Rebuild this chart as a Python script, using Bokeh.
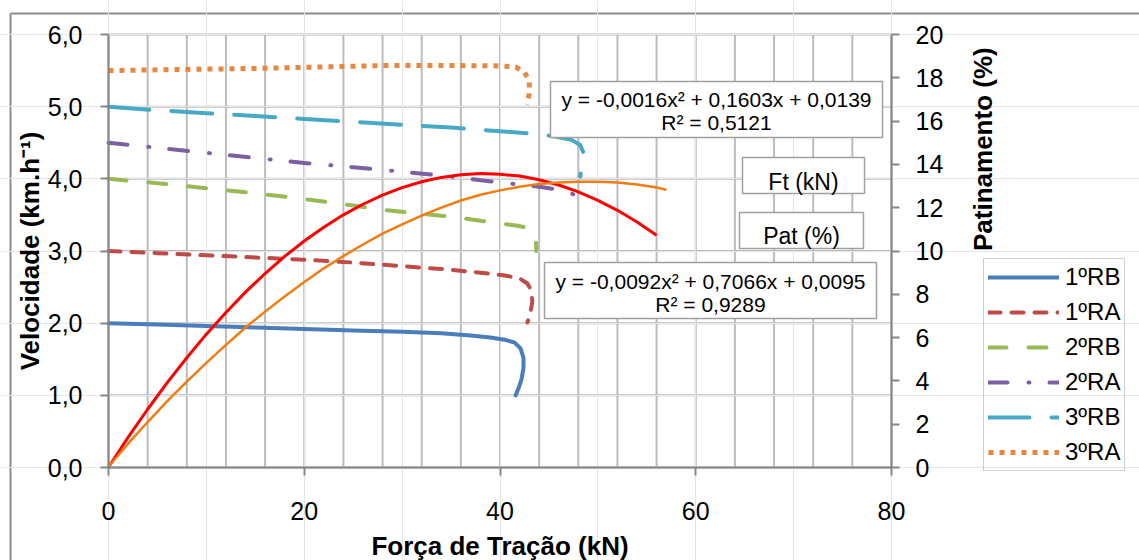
import math
from bokeh.plotting import figure
from bokeh.models import LinearAxis, Range1d, FixedTicker, Legend, LegendItem
from bokeh.core.properties import value
from bokeh.embed import file_html
from bokeh.resources import INLINE

# ---------------- data ----------------
rb1_f = [0, 5, 10, 15, 20, 25, 30, 34, 37, 39, 40.5, 41.5, 42.1, 42.4, 42.4, 42.2, 41.9, 41.6]
rb1_v = [2.00, 1.98, 1.96, 1.94, 1.92, 1.90, 1.88, 1.86, 1.83, 1.80, 1.77, 1.73, 1.65, 1.52, 1.38, 1.22, 1.10, 1.00]

ra1_f = [0, 5, 10, 15, 20, 25, 30, 34, 38, 40.5, 42, 42.8, 43.2, 43.3, 43.1, 42.8]
ra1_v = [3.00, 2.97, 2.94, 2.91, 2.88, 2.84, 2.79, 2.75, 2.70, 2.66, 2.62, 2.55, 2.45, 2.30, 2.13, 2.01]

rb2_f = [0, 5, 10, 15, 20, 25, 28, 34, 38, 41.8, 42.9, 43.5, 43.7, 43.7]
rb2_v = [4.00, 3.94, 3.87, 3.80, 3.72, 3.63, 3.57, 3.49, 3.42, 3.35, 3.32, 3.22, 3.10, 3.00]

ra2_f = [0, 5, 10, 15, 20, 25, 30, 35, 40, 44, 46.5, 47.6, 48.1, 48.2]
ra2_v = [4.50, 4.43, 4.36, 4.29, 4.22, 4.16, 4.10, 4.03, 3.95, 3.89, 3.84, 3.78, 3.70, 3.62]

rb3_f = [0, 5, 10, 15, 20, 25, 30, 35, 40, 43, 45.5, 47.3, 48.2, 48.5, 48.5, 48.3, 48.2]
rb3_v = [5.00, 4.95, 4.91, 4.87, 4.83, 4.79, 4.75, 4.71, 4.66, 4.63, 4.59, 4.54, 4.47, 4.37, 4.25, 4.12, 4.03]

ra3_f = [0, 5, 10, 15, 20, 28, 35, 40, 41.6, 42.5, 43.0, 43.0, 42.7]
ra3_v = [5.50, 5.51, 5.52, 5.53, 5.545, 5.57, 5.57, 5.565, 5.55, 5.48, 5.35, 5.18, 5.03]

# trendline of slip (right axis, %): y = -0,0092x² + 0,7066x + 0,0095
pat_f = [0, 2, 4, 6, 8, 10, 12, 14, 16, 18, 20, 22, 24, 26, 28, 30, 32, 34, 36, 38, 40, 42, 44, 46, 48, 50, 52, 54, 56]
pat_v = [0.01, 1.39, 2.69, 3.92, 5.07, 6.16, 7.16, 8.10, 8.96, 9.75, 10.46, 11.10, 11.67, 12.16, 12.58, 12.93,
         13.20, 13.40, 13.52, 13.58, 13.55, 13.46, 13.29, 13.05, 12.73, 12.34, 11.88, 11.34, 10.73]

# second trendline (left axis): y = -0,0016x² + 0,1603x + 0,0139
ft_f = [0, 2, 4, 6, 8, 10, 12, 14, 16, 18, 20, 22, 24, 26, 28, 30, 32, 34, 36, 38, 40, 42, 44, 46, 48, 50, 52, 54, 56, 57]
ft_v = [0.01, 0.33, 0.63, 0.92, 1.19, 1.45, 1.70, 1.94, 2.16, 2.37, 2.57, 2.76, 2.93, 3.09, 3.24, 3.37,
        3.49, 3.60, 3.70, 3.78, 3.84, 3.89, 3.93, 3.95, 3.96, 3.96, 3.95, 3.92, 3.88, 3.85]

series_names = ["1ºRB", "1ºRA", "2ºRB", "2ºRA", "3ºRB", "3ºRA"]
eq1_lines = ["y = -0,0016x² + 0,1603x + 0,0139", "R² = 0,5121"]
eq2_lines = ["y = -0,0092x² + 0,7066x + 0,0095", "R² = 0,9289"]
box_labels = ["Ft (kN)", "Pat (%)"]

x_ticks = [0, 20, 40, 60, 80]
x_grid = [0, 4, 8, 12, 16, 20, 24, 28, 32, 36, 40, 44, 48, 52, 56, 60, 64, 68, 72, 76, 80]
y_ticks = [0, 1, 2, 3, 4, 5, 6]
y_tick_labels = ["0,0", "1,0", "2,0", "3,0", "4,0", "5,0", "6,0"]
pat_ticks = [0, 2, 4, 6, 8, 10, 12, 14, 16, 18, 20]

# ---------------- layout ----------------
W, H = 1139, 560
FL, FR, FT, FB = 108, 891, 34, 467      # plot area of the chart (x 0..80, y 0..6)
XMAX, YMAX, PMAX = 80.0, 6.0, 20.0
FONT = "Liberation Sans"
AX = "#868686"
GRID = "#bcbcbc"
BOXLINE = "#a0a0a0"
FRAMELINE = "#8c8c8c"


def xd(px):
    return (px - FL) / (FR - FL) * XMAX


def yd(py):
    return (FB - py) / (FB - FT) * YMAX


# the drawing frame covers the whole canvas; axes are pinned to the plot area with fixed_location
p = figure(frame_width=W, frame_height=H, output_backend="svg", toolbar_location=None,
           x_range=Range1d(xd(0), xd(W)), y_range=Range1d(yd(H), yd(0)),
           x_axis_location=None, y_axis_location=None,
           min_border=0, border_fill_color="white", background_fill_color="white")
p.outline_line_color = None
p.extra_y_ranges = {"pat": Range1d(yd(H) * PMAX / YMAX, yd(0) * PMAX / YMAX)}

# axes
ya = LinearAxis(ticker=FixedTicker(ticks=y_ticks), fixed_location=0, bounds=(0, YMAX))
ya.major_label_overrides = {t: s for t, s in zip(y_ticks, y_tick_labels)}
p.add_layout(ya, "left")
xa = LinearAxis(ticker=FixedTicker(ticks=x_ticks), fixed_location=0, bounds=(0, XMAX))
p.add_layout(xa, "below")
ra = LinearAxis(y_range_name="pat", ticker=FixedTicker(ticks=pat_ticks), fixed_location=XMAX, bounds=(0, PMAX))
p.add_layout(ra, "right")

for a in (xa, ya, ra):
    a.axis_line_color = AX
    a.axis_line_width = 2
    a.major_tick_line_color = AX
    a.major_tick_line_width = 2
    a.major_tick_in = 0
    a.major_tick_out = 8
    a.minor_tick_line_color = None
    a.major_label_text_font = FONT
    a.major_label_text_font_size = "25px"
    a.major_label_text_color = "black"
    a.axis_label_text_font = FONT
    a.axis_label_text_font_size = "26px"
    a.axis_label_text_font_style = "bold"
    a.axis_label_text_color = "black"

ya.major_label_standoff = 18
ya.axis_label = "Velocidade (km.h⁻¹)"
ya.axis_label_standoff = 0
xa.major_label_standoff = 26
xa.axis_label = "Força de Tração (kN)"
xa.axis_label_standoff = 8
ra.major_label_standoff = 16
ra.axis_label = "Patinamento (%)"
ra.axis_label_standoff = 37
try:
    ra.axis_label_orientation = math.pi / 2
except Exception:
    pass

# outer chart border (left and top edges visible in the original)
p.multi_line(xs=[[xd(10), xd(10)], [xd(10), xd(W)]], ys=[[yd(13), yd(H)], [yd(13), yd(13)]],
             line_color=FRAMELINE, line_width=2, level="underlay")

# grid: vertical lines every 4 kN, horizontal lines at the left ticks (only over the plot area)
p.multi_line(xs=[[x, x] for x in x_grid], ys=[[0, YMAX] for _ in x_grid],
             line_color=GRID, line_width=2, level="underlay")
p.multi_line(xs=[[0, XMAX] for _ in y_ticks], ys=[[t, t] for t in y_ticks],
             line_color=GRID, line_width=2, level="underlay")

# series
common = dict(line_width=4, line_join="round")
r1 = p.line(rb1_f, rb1_v, color="#4A7EBB", line_cap="round", **common)
r2 = p.line(ra1_f, ra1_v, color="#BE4B48", line_dash="12 11", line_cap="round", **common)
r3 = p.line(rb2_f, rb2_v, color="#98B954", line_dash="18 22", line_cap="round", **common)
r4 = p.line(ra2_f, ra2_v, color="#7D60A0", line_dash="19 21 1 20", line_cap="round", **common)
r5 = p.line(rb3_f, rb3_v, color="#46AAC5", line_dash="41 22", line_cap="round", **common)
r6 = p.line(ra3_f, ra3_v, color="#E8873D", line_dash="5 6", line_cap="butt", line_width=5, line_join="round")

# trendlines
p.line(pat_f, pat_v, y_range_name="pat", color="#FF0000", line_width=3)
p.line(ft_f, ft_v, color="#F27C11", line_width=2.5)

# text boxes
boxes = [(550, 882, 81, 137), (544, 876, 262, 318), (742, 864, 157, 193), (739, 863, 212, 248)]
p.quad(left=[xd(b[0]) for b in boxes], right=[xd(b[1]) for b in boxes],
       top=[yd(b[2]) for b in boxes], bottom=[yd(b[3]) for b in boxes],
       fill_color="white", line_color=BOXLINE, line_width=1.5)

p.text(x=[xd(716), xd(716), xd(710), xd(710)], y=[yd(99), yd(122), yd(281), yd(304)],
       text=[eq1_lines[0], eq1_lines[1], eq2_lines[0], eq2_lines[1]],
       text_font=value(FONT), text_font_size="21px", text_color="black",
       text_align="center", text_baseline="middle")
p.text(x=[xd(803), xd(801)], y=[yd(181), yd(235)], text=box_labels,
       text_font=value(FONT), text_font_size="23px", text_color="black",
       text_align="center", text_baseline="middle")

# legend (screen offset from the frame's bottom-left corner = canvas bottom-left)
legend = Legend(items=[LegendItem(label=n, renderers=[r]) for n, r in zip(series_names, [r1, r2, r3, r4, r5, r6])],
                location=(983, H - 471), orientation="vertical",
                border_line_color=BOXLINE, border_line_width=1.5, background_fill_alpha=0,
                label_text_font=FONT, label_text_font_size="24px", label_text_color="black",
                glyph_width=71, glyph_height=28, label_height=28, spacing=7, padding=4,
                label_standoff=6, margin=0)
p.add_layout(legend)

open("out.html", "w").write(file_html(p, INLINE))
